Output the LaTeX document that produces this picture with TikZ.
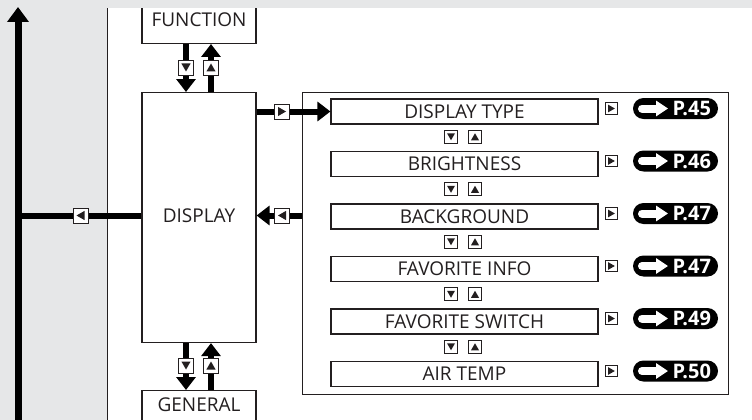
\documentclass[tikz,border=0pt]{standalone}
\usepackage{fontspec}
\setmainfont{Open Sans}
\usetikzlibrary{arrows.meta,calc}
\definecolor{bandgray}{HTML}{E6E7E8}
\definecolor{ink}{HTML}{231F20}
\newcommand\mytridn[2]{\fill[ink] ([shift={(-#1pt,#2pt)}]path picture bounding box.center) -- ++(2*#1 pt,0pt) -- ++(-#1pt,-2*#2 pt) -- cycle;}
\newcommand\mytriup[2]{\fill[ink] ([shift={(-#1pt,-#2pt)}]path picture bounding box.center) -- ++(2*#1 pt,0pt) -- ++(-#1pt,2*#2 pt) -- cycle;}
\newcommand\mytrilf[2]{\fill[ink] ([shift={(#2pt,#1pt)}]path picture bounding box.center) -- ++(0pt,-2*#1 pt) -- ++(-2*#2 pt,#1pt) -- cycle;}
\newcommand\mytrirt[2]{\fill[ink] ([shift={(-#2pt,#1pt)}]path picture bounding box.center) -- ++(0pt,-2*#1 pt) -- ++(2*#2 pt,#1pt) -- cycle;}
\begin{document}
\begin{tikzpicture}[x=1pt,y=-1pt,
  box/.style={draw=ink, line width=1.1pt, fill=white, inner sep=0pt, text=ink,
    font=\fontsize{19}{22}\selectfont},
  bigbox/.style={box, minimum width=114pt},
  menu/.style={box, minimum width=267pt, minimum height=25pt, text height=13.6pt, text depth=0pt},
  keybase/.style={draw=ink, fill=white, line width=0.9pt, inner sep=0pt},
  bkdn/.style={keybase, minimum size=15pt, path picture={\mytridn{4.6}{4}}},
  bkup/.style={keybase, minimum size=15pt, path picture={\mytriup{4.6}{4}}},
  bklf/.style={keybase, minimum size=15pt, path picture={\mytrilf{4.6}{4}}},
  bkrt/.style={keybase, minimum size=15pt, path picture={\mytrirt{4.6}{4}}},
  skdn/.style={keybase, minimum size=13pt, path picture={\mytridn{4}{3.5}}},
  skup/.style={keybase, minimum size=13pt, path picture={\mytriup{4}{3.5}}},
  skrt/.style={keybase, minimum size=11.5pt, path picture={\mytrirt{3.8}{3.3}}},
  conn/.style={draw=black, line width=6pt},
  tipa/.style={-{Triangle[length=13pt,width=19pt]}},
  pill/.style={fill=black, rounded corners=10.5pt, minimum height=21pt,
    text width=71pt, align=right, inner xsep=7pt, inner ysep=0pt,
    text height=14pt, text depth=0pt, text=white,
    font=\fontsize{20}{22}\selectfont\bfseries,
    path picture={\draw[white, line width=8pt, line cap=round,
      -{Triangle[length=12pt,width=15pt]}]
      ([xshift=9pt]path picture bounding box.west) -- ([xshift=35pt]path picture bounding box.west);}}
]
\useasboundingbox (0,0) rectangle (752,420);
\clip (0,0) rectangle (752,420);
% left gray region
\fill[bandgray] (0,0) rectangle (107,420);
\draw[ink, line width=1pt] (107,8) -- (107,425);

% main boxes
\node[bigbox, anchor=south, text height=37.4pt, text depth=16.6pt] (fn) at (199,44) {FUNCTION};
\node[bigbox, anchor=north, text height=129.8pt, text depth=120.2pt] (disp) at (199,92) {DISPLAY};
\node[bigbox, anchor=north, text height=21.1pt, text depth=38pt] (gen) at (199,390) {GENERAL};

% right panel
\node[draw=ink, line width=1.1pt, minimum width=426pt, minimum height=302pt, inner sep=0pt, anchor=north west] (panel) at (302,92) {};

% menu rows
\foreach \i/\t/\p in {0/DISPLAY TYPE/45, 1/BRIGHTNESS/46, 2/BACKGROUND/47, 3/FAVORITE INFO/47, 4/FAVORITE SWITCH/49, 5/AIR TEMP/50} {
  \pgfmathsetmacro\yy{111.5+52.5*\i}
  \node[menu] (m\i) at (464.5,\yy) {\t};
  \node[skrt] (r\i) at (611.5,\yy-3) {};
  \node[pill] (p\i) at (675.5,\yy-3) {P.\p};
}
\foreach \i in {0,...,4} {
  \pgfmathsetmacro\yy{111.5+52.5*\i+25.25}
  \node[skdn] (d\i) at (451,\yy) {};
  \node[skup] (u\i) at (475,\yy) {};
}

% connectors FUNCTION <-> DISPLAY
\draw[conn, tipa] ([xshift=-13pt]fn.south) -- ([xshift=-13pt]disp.north);
\draw[conn, tipa] ([xshift=12pt]disp.north) -- ([xshift=12pt]fn.south);
\node[bkdn] (kfd) at (186,67.5) {};
\node[bkup] (kfu) at (211,67.5) {};

% connectors DISPLAY <-> GENERAL
\draw[conn, tipa] ([xshift=-13pt]disp.south) -- ([xshift=-13pt]gen.north);
\draw[conn, tipa] ([xshift=12pt]gen.north) -- ([xshift=12pt]disp.south);
\node[bkdn] (kgd) at (186,365.5) {};
\node[bkup] (kgu) at (211,365.5) {};

% DISPLAY -> DISPLAY TYPE
\draw[conn, tipa] (m0.west -| disp.east) -- (m0.west);
\node[bkrt] (kr) at (282,111.5) {};

% panel -> DISPLAY, DISPLAY -> left bar
\coordinate (rowy) at (0,215.5);
\coordinate (barbot) at (18,430);
\coordinate (bartop) at (18,7);
\draw[conn, tipa] (panel.west |- rowy) -- (disp.east |- rowy);
\node[bklf] (kl) at (282,215.5) {};
\draw[conn] (disp.west |- rowy) -- (barbot |- rowy);
\node[bklf] (kl2) at (80.5,215.5) {};

% top band
\fill[bandgray] (0,0) rectangle (752,8);

% left vertical bar arrow
\draw[draw=black, line width=7pt, -{Triangle[length=15pt,width=21pt]}] (barbot) -- (bartop);
\end{tikzpicture}
\end{document}
